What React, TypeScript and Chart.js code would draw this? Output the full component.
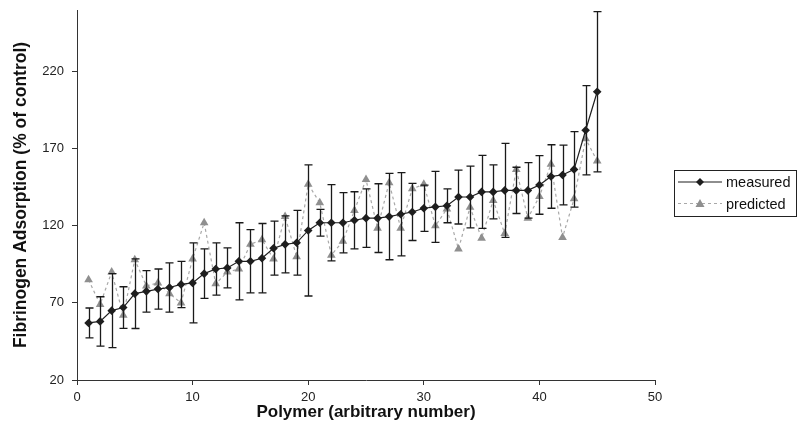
import React, { useEffect, useRef } from "react";
import { Chart, registerables } from "chart.js";

Chart.register(...registerables);

// ---- data ----
const polymerIds = [
  1, 2, 3, 4, 5, 6, 7, 8, 9, 10, 11, 12, 13, 14, 15, 16, 17, 18, 19, 20, 21, 22, 23,
  24, 25, 26, 27, 28, 29, 30, 31, 32, 33, 34, 35, 36, 37, 38, 39, 40, 41, 42, 43, 44, 45,
];
const measured = [
  57, 58, 65, 67, 76, 77.5, 79, 80, 82, 83, 89, 92, 92.7, 97, 97, 99, 105.5, 108, 109, 117,
  122, 122, 122, 123.6, 125, 125, 126, 127.5, 129, 131.4, 132.3, 133, 138.7, 138.7, 142, 142,
  143, 143, 143, 146.5, 152, 153, 156.6, 182, 207,
];
const measuredError = [
  9.7, 16, 24, 13.5, 22.6, 13.5, 13, 16, 15, 26, 16, 17, 13, 25, 20.5, 22.5, 17.5, 18.5, 21,
  42.5, 8.7, 24.7, 19.5, 18.5, 19, 22.3, 28, 27, 18.5, 15, 23, 11, 17.5, 20, 23.7, 17.5, 30.5,
  15, 18, 19, 20.6, 19.4, 24.5, 29, 52,
];
const predicted = [
  85, 69, 90, 62, 98, 81, 83, 76, 70, 98.5, 122, 82.4, 90, 92, 108, 111, 98.5, 126, 100, 147,
  135, 101, 110, 130, 150, 118.5, 148, 118.5, 144, 147, 120, 131, 105, 132, 112, 136.5, 115,
  156.5, 125, 139, 160, 112.5, 137.5, 176.5, 162,
];
const xTickValues = [0, 10, 20, 30, 40, 50];
const yTickValues = [20, 70, 120, 170, 220];
const seriesLabels = ["measured", "predicted"];
const xTitle = "Polymer (arbitrary number)";
const yTitle = "Fibrinogen Adsorption (% of control)";

const FONT = "'Liberation Sans', Arial, sans-serif";

const errorBarPlugin = {
  id: "errorBars",
  beforeDatasetDraw(chart: any, args: any) {
    if (args.index !== 0) return;
    const { ctx, scales } = chart;
    const xs = scales.x;
    const ys = scales.y;
    ctx.save();
    ctx.strokeStyle = "#1a1a1a";
    ctx.lineWidth = 1.3;
    measured.forEach((v, i) => {
      const px = Math.round(xs.getPixelForValue(polymerIds[i])) + 0.5;
      const top = ys.getPixelForValue(v + measuredError[i]);
      const bot = ys.getPixelForValue(v - measuredError[i]);
      ctx.beginPath();
      ctx.moveTo(px, top);
      ctx.lineTo(px, bot);
      ctx.moveTo(px - 4, top);
      ctx.lineTo(px + 4, top);
      ctx.moveTo(px - 4, bot);
      ctx.lineTo(px + 4, bot);
      ctx.stroke();
    });
    ctx.restore();
  },
};

const legendPlugin = {
  id: "customLegend",
  afterDraw(chart: any) {
    const { ctx } = chart;
    const bx = 674.5;
    const by = 170.5;
    const bw = 122;
    const bh = 46;
    ctx.save();
    ctx.fillStyle = "#ffffff";
    ctx.fillRect(bx, by, bw, bh);
    ctx.strokeStyle = "#222";
    ctx.lineWidth = 1;
    ctx.strokeRect(bx, by, bw, bh);
    const rows = [by + 11.5, by + 33];
    chart.data.datasets.forEach((ds: any, i: number) => {
      const y = rows[i];
      ctx.save();
      ctx.strokeStyle = ds.borderColor;
      ctx.lineWidth = ds.borderWidth;
      ctx.setLineDash(ds.borderDash || []);
      ctx.beginPath();
      ctx.moveTo(678, y);
      ctx.lineTo(722, y);
      ctx.stroke();
      ctx.restore();
      ctx.save();
      ctx.fillStyle = ds.pointBackgroundColor;
      ctx.beginPath();
      if (ds.pointStyle === "triangle") {
        ctx.moveTo(700, y - 4.5);
        ctx.lineTo(704.5, y + 3.5);
        ctx.lineTo(695.5, y + 3.5);
      } else {
        ctx.moveTo(700, y - 4);
        ctx.lineTo(704, y);
        ctx.lineTo(700, y + 4);
        ctx.lineTo(696, y);
      }
      ctx.closePath();
      ctx.fill();
      ctx.restore();
      ctx.fillStyle = "#111";
      ctx.font = `14.5px ${FONT}`;
      ctx.textBaseline = "middle";
      ctx.fillText(ds.label, 726, y + 1);
    });
    ctx.restore();
  },
};

export default function App() {
  const canvasRef = useRef<HTMLCanvasElement | null>(null);

  useEffect(() => {
    const canvas = canvasRef.current;
    if (!canvas) return;
    const chart = new Chart(canvas, {
      type: "line",
      data: {
        datasets: [
          {
            label: seriesLabels[0],
            data: polymerIds.map((x, i) => ({ x, y: measured[i] })),
            borderColor: "#1e1e1e",
            borderWidth: 1.2,
            pointStyle: "rectRot",
            pointRadius: 4.3,
            pointBackgroundColor: "#1e1e1e",
            pointBorderColor: "#1e1e1e",
            pointBorderWidth: 0,
            tension: 0,
            order: 1,
          },
          {
            label: seriesLabels[1],
            data: polymerIds.map((x, i) => ({ x, y: predicted[i] })),
            borderColor: "#a8a8a8",
            borderWidth: 1.2,
            borderDash: [3, 3],
            pointStyle: "triangle",
            pointRadius: 5,
            pointBackgroundColor: "#8f8f8f",
            pointBorderColor: "#8f8f8f",
            pointBorderWidth: 0,
            tension: 0,
            order: 2,
          },
        ],
      },
      options: {
        animation: false,
        responsive: false,
        devicePixelRatio: 1,
        layout: { padding: { top: 10, right: 149, left: 0, bottom: 0 } },
        plugins: {
          legend: { display: false },
          tooltip: { enabled: false },
        },
        scales: {
          x: {
            type: "linear",
            min: 0,
            max: 50,
            afterBuildTicks: (scale: any) => {
              scale.ticks = xTickValues.map((value) => ({ value }));
            },
            afterFit: (scale: any) => {
              scale.height = 57;
            },
            ticks: {
              color: "#222",
              font: { family: FONT, size: 13 },
              padding: 5,
              maxRotation: 0,
            },
            grid: {
              display: true,
              drawOnChartArea: false,
              drawTicks: true,
              tickLength: 5,
              color: "#333",
            },
            border: { display: true, color: "#333", width: 1 },
            title: {
              display: true,
              text: xTitle,
              color: "#111",
              font: { family: FONT, size: 17, weight: "bold" },
              padding: { top: 0, bottom: 14 },
            },
          },
          y: {
            type: "linear",
            min: 20,
            max: 260,
            afterBuildTicks: (scale: any) => {
              scale.ticks = yTickValues.map((value) => ({ value }));
            },
            afterFit: (scale: any) => {
              scale.width = 77;
              scale.paddingTop = 0;
              scale.paddingBottom = 0;
            },
            ticks: {
              color: "#222",
              font: { family: FONT, size: 13 },
              padding: 8,
            },
            grid: {
              display: true,
              drawOnChartArea: false,
              drawTicks: true,
              tickLength: 5,
              color: "#333",
            },
            border: { display: true, color: "#333", width: 1 },
            title: {
              display: true,
              text: yTitle,
              color: "#111",
              font: { family: FONT, size: 17.5, weight: "bold" },
              padding: { top: 11, bottom: 0 },
            },
          },
        },
      },
      plugins: [errorBarPlugin, legendPlugin],
    });
    return () => chart.destroy();
  }, []);

  return (
    <div
      style={{
        position: "fixed",
        left: 0,
        top: 0,
        width: 804,
        height: 437,
        background: "#ffffff",
      }}
    >
      <canvas ref={canvasRef} width={804} height={437} style={{ width: 804, height: 437 }} />
    </div>
  );
}
